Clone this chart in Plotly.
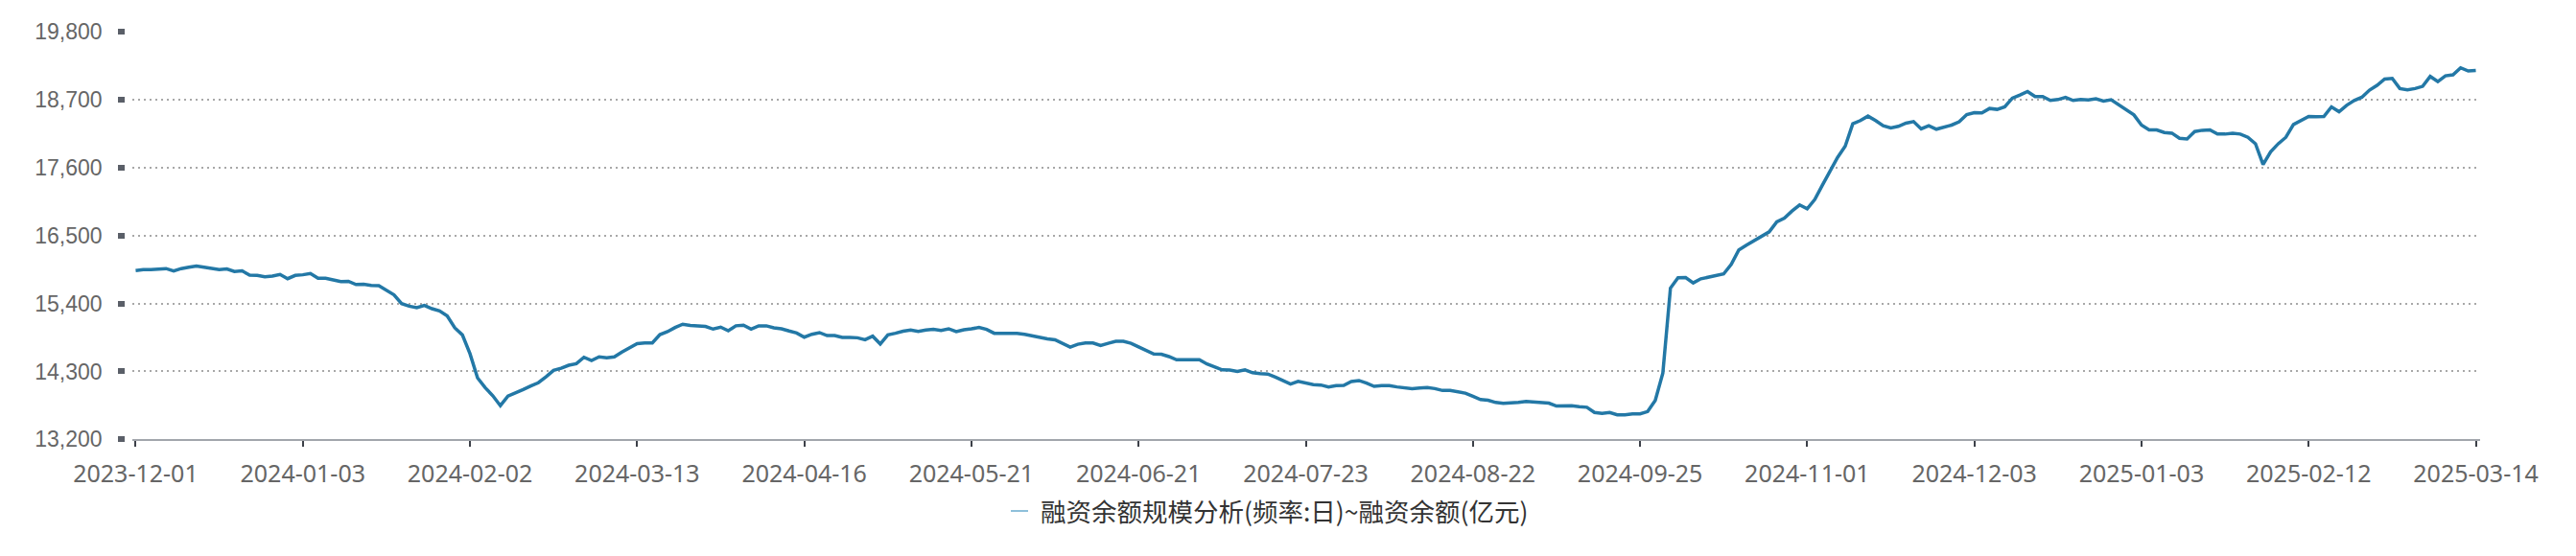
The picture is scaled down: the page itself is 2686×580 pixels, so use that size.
import pandas as pd
import plotly.graph_objects as go

# ---- data -------------------------------------------------------------
# Chinese exchange holidays (weekdays closed) in the period
holidays = [
    "2024-01-01", "2024-02-09", "2024-02-12", "2024-02-13", "2024-02-14",
    "2024-02-15", "2024-02-16", "2024-04-04", "2024-04-05", "2024-05-01",
    "2024-05-02", "2024-05-03", "2024-06-10", "2024-09-16", "2024-09-17",
    "2024-10-01", "2024-10-02", "2024-10-03", "2024-10-04", "2024-10-07",
    "2025-01-01", "2025-01-28", "2025-01-29", "2025-01-30", "2025-01-31",
    "2025-02-03", "2025-02-04",
]
dates = [d.strftime("%Y-%m-%d") for d in
         pd.bdate_range("2023-12-01", "2025-03-14", freq="C", holidays=holidays)]

# 融资余额 (亿元), one value per trading day
margin_balance = [
    15934, 15950, 15950, 15955, 15966, 15929, 15966, 15987, 16008, 15987,
    15971, 15950, 15960, 15919, 15929, 15861, 15856, 15835, 15845, 15871,
    15803, 15856, 15866, 15887, 15809, 15809, 15782, 15756, 15761, 15709,
    15714, 15693, 15688, 15620, 15541, 15400, 15358, 15332, 15369, 15316,
    15280, 15201, 15007, 14892, 14588, 14195, 14038, 13907, 13745, 13900,
    13960, 14007, 14064, 14117, 14211, 14316, 14352, 14400, 14426, 14530,
    14478, 14536, 14520, 14536, 14614, 14682, 14750, 14761, 14761, 14897,
    14944, 15012, 15065, 15044, 15039, 15028, 14986, 15018, 14960, 15039,
    15049, 14986, 15039, 15039, 15007, 14991, 14955, 14923, 14855, 14902,
    14929, 14881, 14881, 14850, 14850, 14845, 14813, 14871, 14745, 14892,
    14918, 14952, 14970, 14950, 14970, 14981, 14965, 14991, 14944, 14976,
    14991, 15012, 14981, 14918, 14918, 14923, 14918, 14902, 14876, 14860,
    14829, 14813, 14756, 14693, 14740, 14761, 14761, 14719, 14756, 14787,
    14787, 14756, 14698, 14640, 14583, 14578, 14541, 14489, 14489, 14499,
    14489, 14420, 14373, 14326, 14321, 14300, 14326, 14279, 14263, 14258,
    14208, 14156, 14096, 14138, 14106, 14085, 14080, 14049, 14070, 14075,
    14138, 14153, 14111, 14059, 14070, 14070, 14049, 14033, 14022, 14033,
    14038, 14022, 13991, 13991, 13970, 13949, 13897, 13844, 13834, 13797,
    13782, 13787, 13797, 13813, 13808, 13792, 13787, 13740, 13745, 13745,
    13729, 13719, 13635, 13619, 13635, 13598, 13598, 13614, 13614, 13650,
    13829, 14274, 15650, 15817, 15822, 15734, 15801, 15827, 15843, 15879,
    16034, 16267, 16345, 16417, 16490, 16562, 16723, 16785, 16899, 16997,
    16935, 17085, 17318, 17551, 17768, 17949, 18312, 18364, 18436, 18364,
    18281, 18245, 18270, 18322, 18348, 18229, 18281, 18224, 18255, 18291,
    18343, 18462, 18493, 18488, 18560, 18545, 18586, 18726, 18778, 18835,
    18752, 18752, 18690, 18705, 18740, 18690, 18705, 18700, 18716, 18680,
    18700, 18620, 18534, 18456, 18290, 18212, 18212, 18171, 18160, 18077,
    18067, 18186, 18207, 18212, 18145, 18145, 18160, 18145, 18093, 17989,
    17652, 17859, 17989, 18093, 18300, 18363, 18430, 18425, 18430, 18586,
    18508, 18612, 18690, 18742, 18856, 18934, 19037, 19048, 18882, 18861,
    18882, 18918, 19079, 18996, 19089, 19105, 19219, 19167, 19177,
]

y_ticks = [13200, 14300, 15400, 16500, 17600, 18700, 19800]
x_ticks = dates[::22]
series_name = "融资余额规模分析(频率:日)~融资余额(亿元)"

# ---- figure -----------------------------------------------------------
W, H = 2686, 580
LINE_COLOR = "#2378a6"

fig = go.Figure()
fig.add_trace(go.Scatter(
    x=dates, y=margin_balance, mode="lines", name=series_name,
    line=dict(color=LINE_COLOR, width=3.5), showlegend=False,
))

x0, x1 = 137.5, 2585.5
ytop, ybot = 33.3, 458.3

fig.update_layout(
    width=W, height=H,
    margin=dict(l=0, r=0, t=0, b=0, autoexpand=False),
    paper_bgcolor="white", plot_bgcolor="white",
    xaxis=dict(
        type="category", domain=[x0 / W, x1 / W],
        range=[-0.5, len(dates) - 0.5],
        tickmode="array", tickvals=x_ticks, ticktext=x_ticks,
        showgrid=False, zeroline=False,
        showline=True, linecolor="#a2a6ac", linewidth=2,
        ticks="outside", ticklen=6, tickwidth=2, tickcolor="#3c4048",
        tickfont=dict(family="Noto Sans", size=25, color="#666666"),
        ticklabelstandoff=7,
    ),
    yaxis=dict(
        domain=[1 - ybot / H, 1 - ytop / H],
        range=[13200, 19800], anchor="free", position=129.7 / W,
        tickmode="array", tickvals=y_ticks, tickformat=",d",
        showgrid=True, gridcolor="#a8a8a8", gridwidth=2, griddash="2px,4px",
        zeroline=False, showline=False,
        ticks="outside", ticklen=6.5, tickwidth=6, tickcolor="#5a5f68",
        tickfont=dict(family="Liberation Sans", size=23, color="#666666"),
        ticklabelstandoff=12,
    ),
)

# legend (drawn manually to match the short marker)
fig.add_shape(type="line", xref="paper", yref="paper",
              x0=1054 / W, x1=1072 / W, y0=1 - 533 / H, y1=1 - 533 / H,
              line=dict(color="#8ec0da", width=2))
fig.add_annotation(xref="paper", yref="paper", x=1083 / W, y=1 - 532 / H,
                   xanchor="left", yanchor="middle", showarrow=False,
                   text=series_name,
                   font=dict(family="Noto Sans CJK SC", size=26.5, color="#333333"))

fig.write_html("out.html",
               config={"displayModeBar": False},
               post_script="document.body.style.margin='0';")
